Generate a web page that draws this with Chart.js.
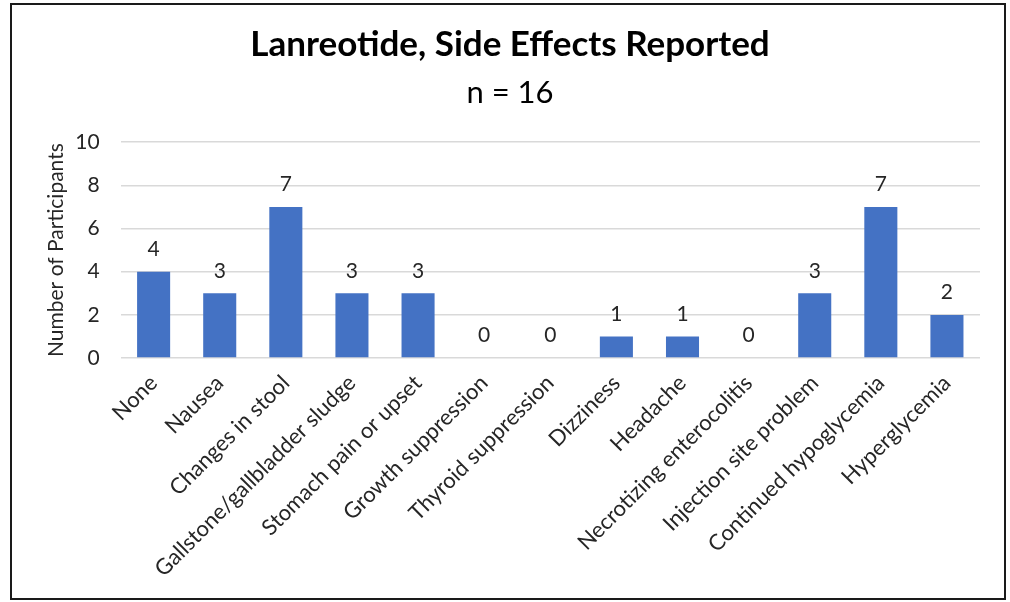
<!DOCTYPE html>
<html>
<head>
<meta charset="utf-8">
<script src="https://cdn.jsdelivr.net/npm/chart.js@4"></script>
<style>
  html, body { margin: 0; padding: 0; background: #fff; }
  #frame {
    position: absolute; left: 10px; top: 3px;
    width: 992px; height: 593px;
    border: 2px solid #1a1a1a;
  }
  #chart { display: block; }
</style>
</head>
<body>
<div id="frame"><canvas id="chart" width="992" height="593"></canvas></div>
<script>
const categories = [
  "None", "Nausea", "Changes in stool", "Gallstone/gallbladder sludge",
  "Stomach pain or upset", "Growth suppression", "Thyroid suppression",
  "Dizziness", "Headache", "Necrotizing enterocolitis",
  "Injection site problem", "Continued hypoglycemia", "Hyperglycemia"
];
const participants = [4, 3, 7, 3, 3, 0, 0, 1, 1, 0, 3, 7, 2];
const yTicks = [0, 2, 4, 6, 8, 10];

const FONT = "Lato, 'Open Sans', sans-serif";
const TEXT = "#262626";

// writes each bar's count just above it
const valueLabels = {
  id: "valueLabels",
  afterDatasetsDraw(chart) {
    const ctx = chart.ctx;
    ctx.save();
    ctx.font = "21px " + FONT;
    ctx.fillStyle = TEXT;
    ctx.textAlign = "center";
    ctx.textBaseline = "bottom";
    chart.getDatasetMeta(0).data.forEach((bar, i) => {
      ctx.fillText(String(participants[i]), bar.x, bar.y - 12);
    });
    ctx.restore();
  }
};

new Chart(document.getElementById("chart"), {
  type: "bar",
  data: {
    labels: categories,
    datasets: [{
      data: participants,
      backgroundColor: "#4472C4",
      categoryPercentage: 1.0,
      barPercentage: 0.5
    }]
  },
  options: {
    responsive: false,
    animation: false,
    layout: { padding: { top: 19, right: 24, left: 28, bottom: 12 } },
    plugins: {
      legend: { display: false },
      tooltip: { enabled: false },
      title: {
        display: true,
        text: "Lanreotide, Side Effects Reported",
        color: "#000",
        font: { family: FONT, size: 35, weight: "bold" },
        padding: { top: 0, bottom: 8 }
      },
      subtitle: {
        display: true,
        text: "n = 16",
        color: "#000",
        font: { family: FONT, size: 31 },
        padding: { top: 0, bottom: 31 }
      }
    },
    scales: {
      x: {
        grid: { display: false },
        border: { display: false },
        ticks: {
          color: TEXT,
          font: { family: FONT, size: 22 },
          minRotation: 45,
          maxRotation: 45,
          autoSkip: false,
          padding: 4
        }
      },
      y: {
        min: 0,
        max: 10,
        afterBuildTicks(axis) { axis.ticks = yTicks.map(v => ({ value: v })); },
        grid: { color: "#d9d9d9", lineWidth: 1.5, drawTicks: false },
        border: { display: false },
        ticks: {
          color: TEXT,
          font: { family: FONT, size: 21 },
          padding: 21
        },
        title: {
          display: true,
          text: "Number of Participants",
          color: TEXT,
          font: { family: FONT, size: 21 },
          padding: { top: 4, bottom: -15 }
        }
      }
    }
  },
  plugins: [valueLabels]
});
</script>
</body>
</html>
